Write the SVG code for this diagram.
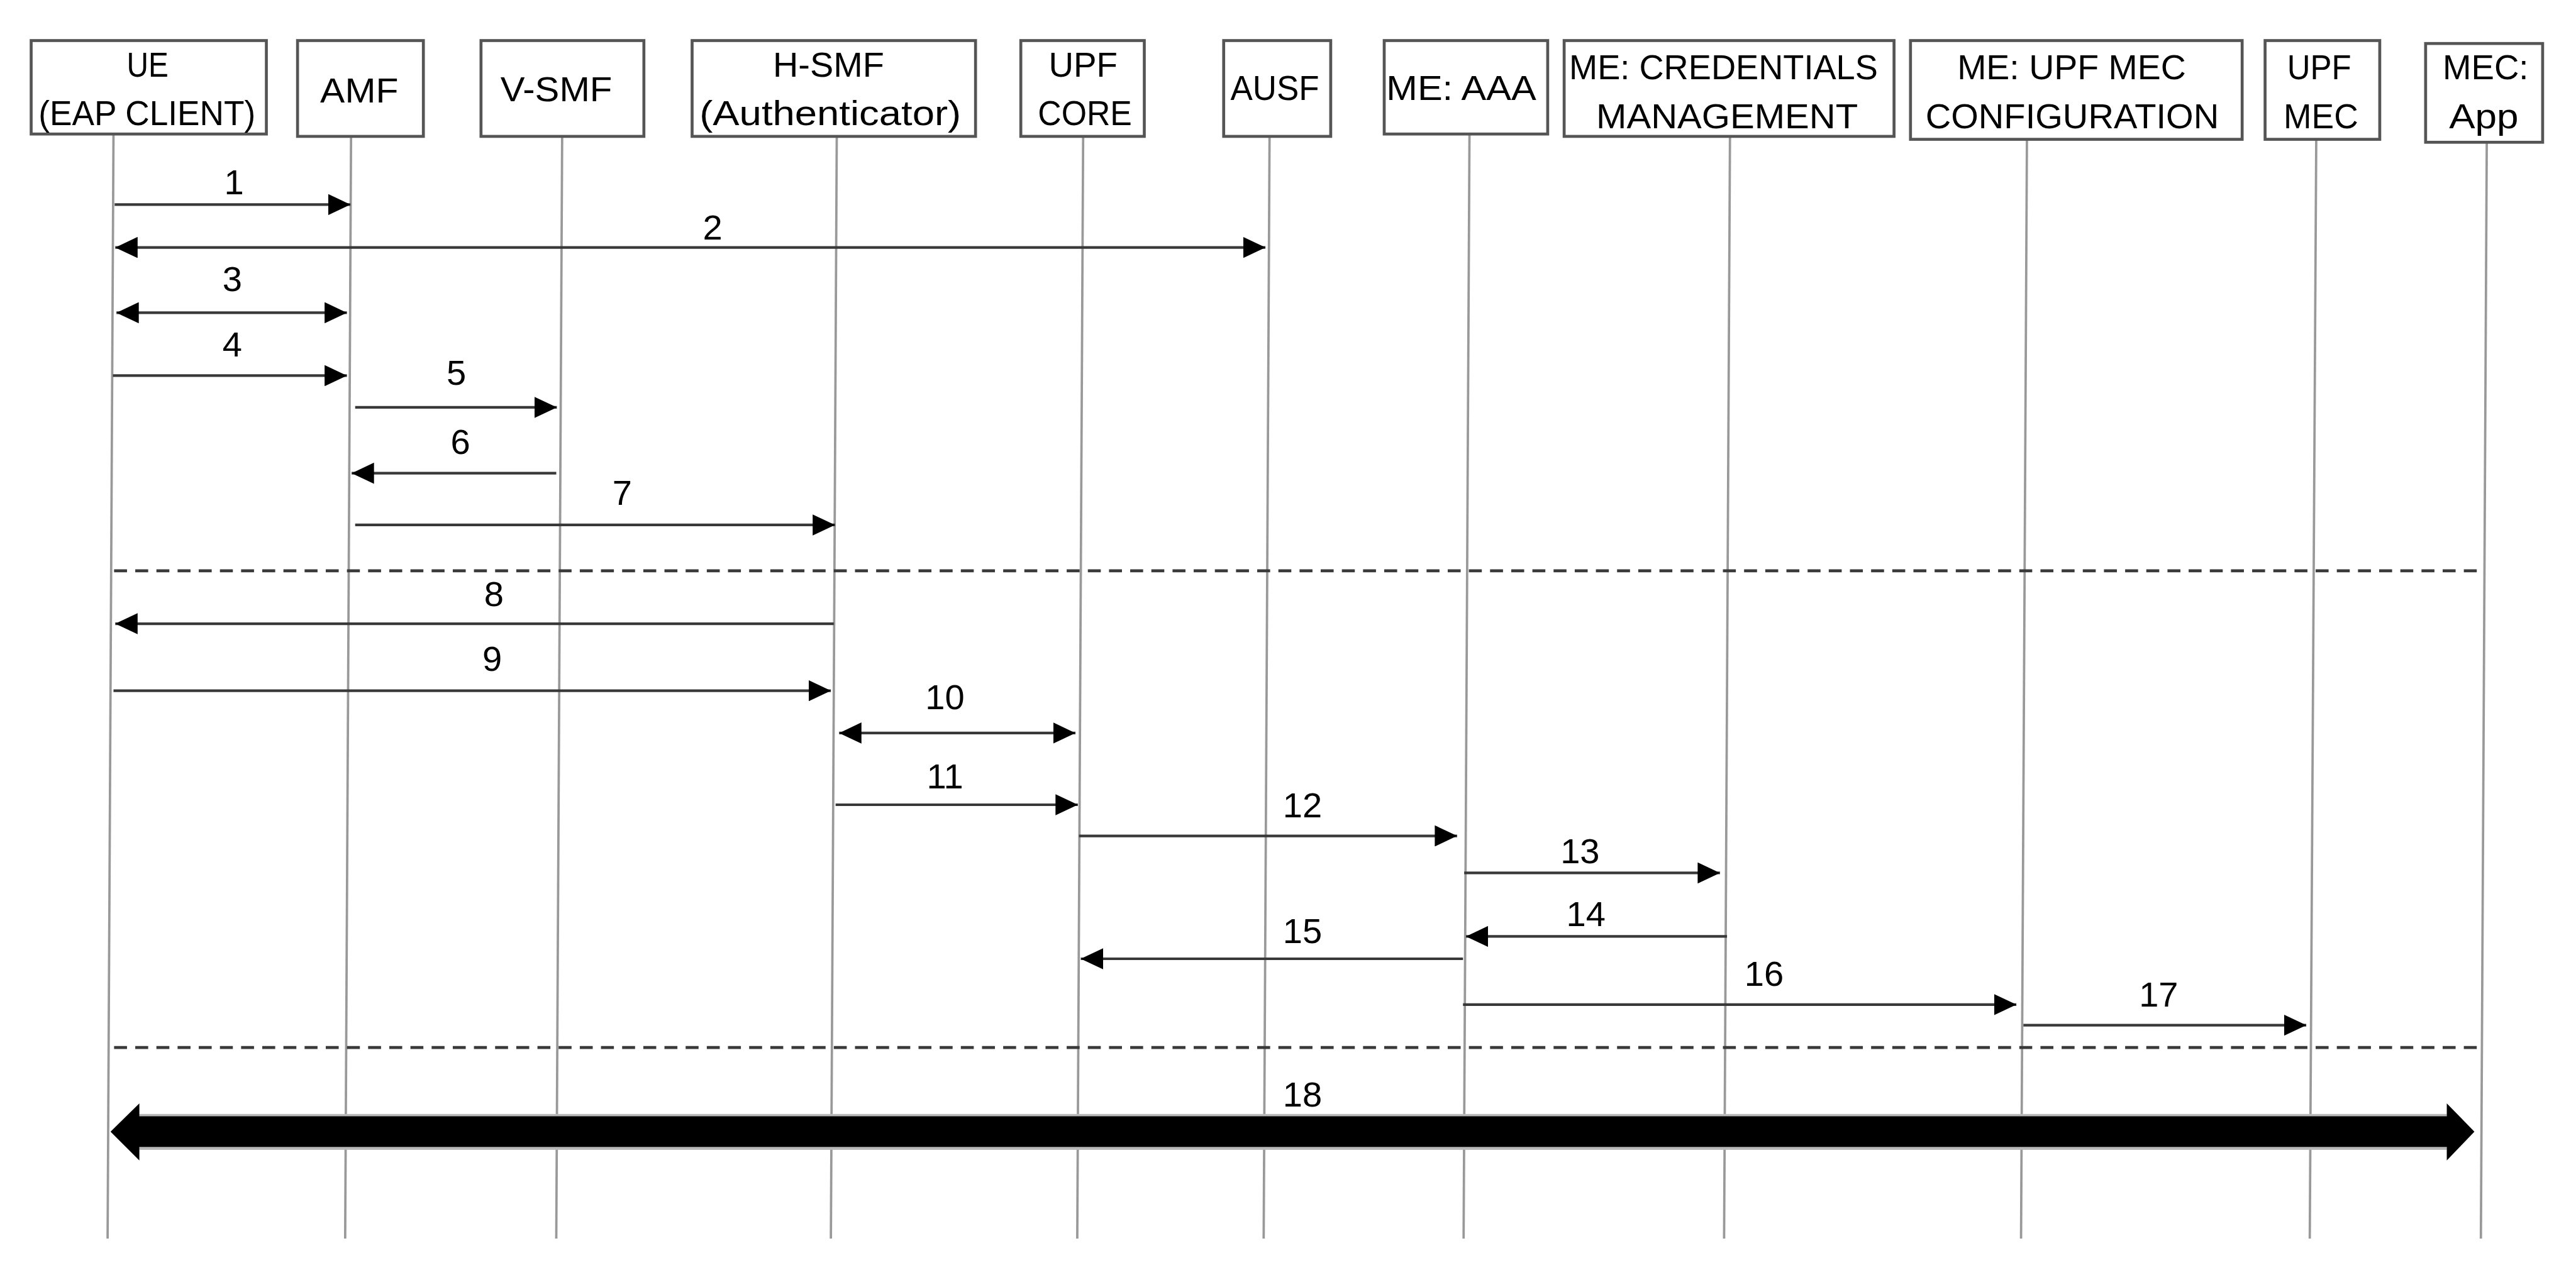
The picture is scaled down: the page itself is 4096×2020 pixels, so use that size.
<svg xmlns="http://www.w3.org/2000/svg" width="4096" height="2020" viewBox="0 0 4096 2020">
<style>
.box{fill:#fff;stroke:#555;stroke-width:5}
.life{stroke:#999;stroke-width:4;fill:none}
.lbl{font-family:"Liberation Sans",Arial,sans-serif;font-size:60px;fill:#000;text-anchor:middle}
.msg{stroke:#383838;stroke-width:4.5;fill:none}
.dash{stroke:#3a3a3a;stroke-width:5;stroke-dasharray:22 14;fill:none}
</style>
<defs>
<marker id="ah" markerUnits="userSpaceOnUse" markerWidth="38" markerHeight="36" refX="38" refY="18" orient="auto-start-reverse" viewBox="0 0 38 36">
<path d="M0,0 L38,18 L0,36 Z" fill="#000"/>
</marker>
</defs>
<rect x="0" y="0" width="4096" height="2020" fill="#fff"/>
<g transform="scale(0.935)">
<g id="nodes">
<g id="node-ue">
<line class="life" x1="193" y1="228" x2="183" y2="2107"/>
<rect class="box" x="53" y="69" width="400" height="159"/>
<text class="lbl" x="251" y="131" textLength="71" lengthAdjust="spacingAndGlyphs">UE</text>
<text class="lbl" x="250" y="213" textLength="369" lengthAdjust="spacingAndGlyphs">(EAP CLIENT)</text>
</g>
<g id="node-amf">
<line class="life" x1="597" y1="232" x2="587" y2="2107"/>
<rect class="box" x="506" y="69" width="214" height="163"/>
<text class="lbl" x="611" y="174" textLength="133" lengthAdjust="spacingAndGlyphs">AMF</text>
</g>
<g id="node-vsmf">
<line class="life" x1="956" y1="232" x2="946" y2="2107"/>
<rect class="box" x="818" y="69" width="277" height="163"/>
<text class="lbl" x="946" y="172" textLength="190" lengthAdjust="spacingAndGlyphs">V-SMF</text>
</g>
<g id="node-hsmf">
<line class="life" x1="1423" y1="232" x2="1413" y2="2107"/>
<rect class="box" x="1177" y="69" width="482" height="163"/>
<text class="lbl" x="1409" y="131" textLength="189" lengthAdjust="spacingAndGlyphs">H-SMF</text>
<text class="lbl" x="1412" y="213" textLength="445" lengthAdjust="spacingAndGlyphs">(Authenticator)</text>
</g>
<g id="node-upfcore">
<line class="life" x1="1842" y1="232" x2="1832" y2="2107"/>
<rect class="box" x="1736" y="69" width="210" height="163"/>
<text class="lbl" x="1842" y="131" textLength="117" lengthAdjust="spacingAndGlyphs">UPF</text>
<text class="lbl" x="1845" y="213" textLength="160" lengthAdjust="spacingAndGlyphs">CORE</text>
</g>
<g id="node-ausf">
<line class="life" x1="2159" y1="232" x2="2149" y2="2107"/>
<rect class="box" x="2081" y="69" width="182" height="163"/>
<text class="lbl" x="2168" y="170" textLength="151" lengthAdjust="spacingAndGlyphs">AUSF</text>
</g>
<g id="node-aaa">
<line class="life" x1="2499" y1="228" x2="2489" y2="2107"/>
<rect class="box" x="2354" y="69" width="278" height="159"/>
<text class="lbl" x="2485" y="170" textLength="255" lengthAdjust="spacingAndGlyphs">ME: AAA</text>
</g>
<g id="node-cred">
<line class="life" x1="2942" y1="232" x2="2932" y2="2107"/>
<rect class="box" x="2660" y="69" width="561" height="163"/>
<text class="lbl" x="2931" y="135" textLength="525" lengthAdjust="spacingAndGlyphs">ME: CREDENTIALS</text>
<text class="lbl" x="2937" y="218" textLength="445" lengthAdjust="spacingAndGlyphs">MANAGEMENT</text>
</g>
<g id="node-config">
<line class="life" x1="3447" y1="237" x2="3437" y2="2107"/>
<rect class="box" x="3249" y="69" width="564" height="168"/>
<text class="lbl" x="3523" y="135" textLength="389" lengthAdjust="spacingAndGlyphs">ME: UPF MEC</text>
<text class="lbl" x="3524" y="218" textLength="499" lengthAdjust="spacingAndGlyphs">CONFIGURATION</text>
</g>
<g id="node-upfmec">
<line class="life" x1="3939" y1="237" x2="3928" y2="2107"/>
<rect class="box" x="3852" y="69" width="195" height="168"/>
<text class="lbl" x="3944" y="135" textLength="109" lengthAdjust="spacingAndGlyphs">UPF</text>
<text class="lbl" x="3947" y="218" textLength="127" lengthAdjust="spacingAndGlyphs">MEC</text>
</g>
<g id="node-mecapp">
<line class="life" x1="4229" y1="242" x2="4219" y2="2107"/>
<rect class="box" x="4125" y="74" width="199" height="168"/>
<text class="lbl" x="4227" y="135" textLength="146" lengthAdjust="spacingAndGlyphs">MEC:</text>
<text class="lbl" x="4224" y="218" textLength="118" lengthAdjust="spacingAndGlyphs">App</text>
</g>
</g>
<g id="connectors">
<line class="msg" x1="195" y1="348" x2="596" y2="348" marker-end="url(#ah)"/>
<text class="lbl" x="398" y="330">1</text>
<line class="msg" x1="196" y1="421" x2="2152" y2="421" marker-start="url(#ah)" marker-end="url(#ah)"/>
<text class="lbl" x="1212" y="408">2</text>
<line class="msg" x1="198" y1="532" x2="590" y2="532" marker-start="url(#ah)" marker-end="url(#ah)"/>
<text class="lbl" x="395" y="495">3</text>
<line class="msg" x1="192" y1="639" x2="590" y2="639" marker-end="url(#ah)"/>
<text class="lbl" x="395" y="606">4</text>
<line class="msg" x1="604" y1="693" x2="947" y2="693" marker-end="url(#ah)"/>
<text class="lbl" x="776" y="655">5</text>
<line class="msg" x1="946" y1="805" x2="598" y2="805" marker-end="url(#ah)"/>
<text class="lbl" x="783" y="772">6</text>
<line class="msg" x1="604" y1="893" x2="1420" y2="893" marker-end="url(#ah)"/>
<text class="lbl" x="1058" y="859">7</text>
<line class="dash" x1="194" y1="971" x2="4217" y2="971"/>
<line class="msg" x1="1418" y1="1061" x2="196" y2="1061" marker-end="url(#ah)"/>
<text class="lbl" x="840" y="1031">8</text>
<line class="msg" x1="193" y1="1175" x2="1413" y2="1175" marker-end="url(#ah)"/>
<text class="lbl" x="837" y="1141">9</text>
<line class="msg" x1="1427" y1="1247" x2="1829" y2="1247" marker-start="url(#ah)" marker-end="url(#ah)"/>
<text class="lbl" x="1607" y="1206">10</text>
<line class="msg" x1="1421" y1="1369" x2="1833" y2="1369" marker-end="url(#ah)"/>
<text class="lbl" x="1607" y="1341">11</text>
<line class="msg" x1="1835" y1="1422" x2="2478" y2="1422" marker-end="url(#ah)"/>
<text class="lbl" x="2215" y="1390">12</text>
<line class="msg" x1="2490" y1="1485" x2="2925" y2="1485" marker-end="url(#ah)"/>
<text class="lbl" x="2687" y="1468">13</text>
<line class="msg" x1="2937" y1="1593" x2="2493" y2="1593" marker-end="url(#ah)"/>
<text class="lbl" x="2697" y="1575">14</text>
<line class="msg" x1="2488" y1="1631" x2="1838" y2="1631" marker-end="url(#ah)"/>
<text class="lbl" x="2215" y="1604">15</text>
<line class="msg" x1="2488" y1="1709" x2="3429" y2="1709" marker-end="url(#ah)"/>
<text class="lbl" x="3000" y="1677">16</text>
<line class="msg" x1="3441" y1="1744" x2="3922" y2="1744" marker-end="url(#ah)"/>
<text class="lbl" x="3671" y="1712">17</text>
<line class="dash" x1="194" y1="1782" x2="4217" y2="1782"/>
<rect x="237" y="1895" width="3924" height="61" fill="#b8b8b8"/>
<polygon points="188,1925 237,1877 237,1899 4161,1899 4161,1877 4208,1925 4161,1974 4161,1951 237,1951 237,1974" fill="#000"/>
<text class="lbl" x="2215" y="1882">18</text>
</g>
</g>
</svg>
